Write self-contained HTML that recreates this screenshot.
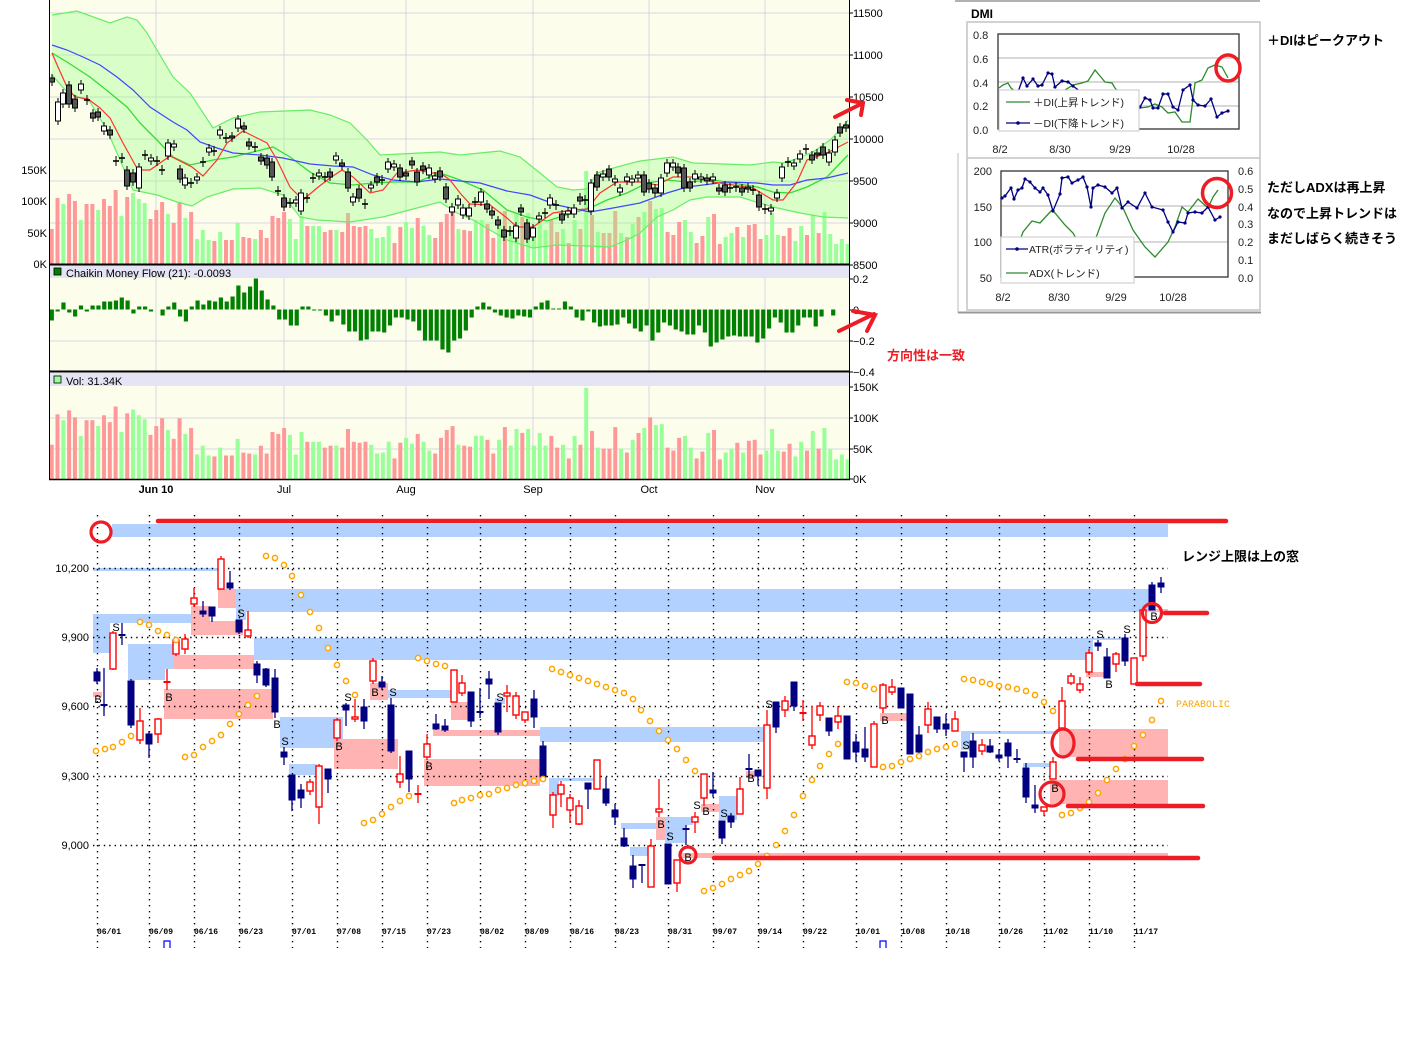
<!DOCTYPE html>
<html><head><meta charset="utf-8"><style>html,body{margin:0;padding:0;background:#fff}svg{display:block}</style></head><body>
<svg width="1412" height="1042" viewBox="0 0 1412 1042" xmlns="http://www.w3.org/2000/svg" font-family="'Liberation Sans','Noto Sans CJK JP',sans-serif">
<rect width="1412" height="1042" fill="#fff"/>
<!-- ================= TOP CHART ================= -->
<rect x="49" y="0" width="800" height="264" fill="#fdfdec"/>
<rect x="49" y="278" width="800" height="93" fill="#fdfdec"/>
<rect x="49" y="386" width="800" height="93" fill="#fdfdec"/>
<g stroke="#d6d6e0" stroke-width="1">
<line x1="49" y1="13" x2="849" y2="13"/><line x1="49" y1="55" x2="849" y2="55"/><line x1="49" y1="97" x2="849" y2="97"/><line x1="49" y1="139" x2="849" y2="139"/><line x1="49" y1="181" x2="849" y2="181"/><line x1="49" y1="223" x2="849" y2="223"/>
<line x1="49" y1="341" x2="849" y2="341"/><line x1="49" y1="418" x2="849" y2="418"/><line x1="49" y1="449" x2="849" y2="449"/>
<line x1="156" y1="0" x2="156" y2="479"/><line x1="284" y1="0" x2="284" y2="479"/><line x1="406" y1="0" x2="406" y2="479"/><line x1="533" y1="0" x2="533" y2="479"/><line x1="649" y1="0" x2="649" y2="479"/><line x1="765" y1="0" x2="765" y2="479"/>
</g>
<g id="tvol"></g><g id="tband"></g><g id="tline"></g><g id="tcand"></g>
<g id="cmf"></g><g id="vvol"></g>
<!-- headers -->
<rect x="50" y="265" width="799" height="13" fill="#e4e4f4"/>
<rect x="50" y="373" width="799" height="13" fill="#e4e4f4"/>
<rect x="54" y="268" width="7" height="7" fill="#008000" stroke="#000" stroke-width="0.8"/>
<rect x="54" y="376" width="7" height="7" fill="#99ff99" stroke="#000" stroke-width="0.8"/>
<text x="66" y="277" font-size="11" fill="#000">Chaikin Money Flow (21): -0.0093</text>
<text x="66" y="385" font-size="11" fill="#000">Vol: 31.34K</text>
<!-- frames -->
<g stroke="#000" fill="none">
<line x1="49.5" y1="0" x2="49.5" y2="480"/><line x1="849.5" y1="0" x2="849.5" y2="480"/>
<line x1="49" y1="264.5" x2="850" y2="264.5" stroke-width="2"/>
<line x1="49" y1="371.5" x2="850" y2="371.5" stroke-width="2"/>
<line x1="49" y1="479.5" x2="850" y2="479.5" stroke-width="1.5"/>
<path d="M849 13h4M849 55h4M849 97h4M849 139h4M849 181h4M849 223h4M849 265h4M849 279h4M849 310h4M849 341h4M849 372h4M849 387h4M849 418h4M849 449h4M849 479h4"/>
</g>
<g font-size="11" fill="#000">
<text x="853" y="17">11500</text><text x="853" y="59">11000</text><text x="853" y="101">10500</text><text x="853" y="143">10000</text><text x="853" y="185">9500</text><text x="853" y="227">9000</text><text x="853" y="269">8500</text>
<text x="853" y="283">0.2</text><text x="853" y="314">0</text><text x="853" y="345">−0.2</text><text x="853" y="376">−0.4</text>
<text x="853" y="391">150K</text><text x="853" y="422">100K</text><text x="853" y="453">50K</text><text x="853" y="483">0K</text>
<g text-anchor="end"><text x="47" y="174">150K</text><text x="47" y="205">100K</text><text x="47" y="237">50K</text><text x="47" y="268">0K</text></g>
<g text-anchor="middle"><text x="156" y="493" font-weight="bold">Jun 10</text><text x="284" y="493">Jul</text><text x="406" y="493">Aug</text><text x="533" y="493">Sep</text><text x="649" y="493">Oct</text><text x="765" y="493">Nov</text></g>
</g>
<!-- red arrows -->
<g stroke="#ee1c25" stroke-width="4" stroke-linecap="round" fill="none">
<path d="M835 117L863 103M847 100L863 103L861 115"/>
<path d="M839 331L874 314M853 311L875 315L867 331"/>
</g>
<text x="887" y="360" font-size="13" font-weight="bold" fill="#ee1c25">方向性は一致</text>

<!-- ================= DMI ================= -->
<line x1="955" y1="1" x2="1260" y2="1" stroke="#999" stroke-width="1.5"/>
<text x="971" y="18" font-size="12" font-weight="bold" fill="#000">DMI</text>
<rect x="967" y="22" width="293" height="288" fill="none" stroke="#c4c4c4" stroke-width="1.5"/>
<line x1="967" y1="158" x2="1260" y2="158" stroke="#c4c4c4" stroke-width="1.5"/>
<line x1="958" y1="153" x2="958" y2="313" stroke="#bbb"/>
<line x1="958" y1="312.5" x2="1261" y2="312.5" stroke="#999" stroke-width="2"/>
<g stroke="#999" stroke-width="0.8"><line x1="998" y1="58" x2="1239" y2="58"/><line x1="998" y1="82" x2="1239" y2="82"/><line x1="998" y1="106" x2="1239" y2="106"/>
<line x1="1001" y1="206" x2="1228" y2="206"/><line x1="1001" y1="242" x2="1228" y2="242"/></g>
<rect x="998" y="34" width="241" height="95" fill="none" stroke="#333" stroke-width="1.3"/>
<rect x="1001" y="171" width="227" height="106" fill="none" stroke="#333" stroke-width="1.3"/>
<polyline fill="none" stroke="#2e8b2e" stroke-width="1.3" points="999,88 1003,85 1008,83 1011,88 1020,95 1035,100 1050,97 1065,90 1073,85 1082,83 1088,81 1095,70 1100,76 1105,82 1112,83 1115,88 1125,100 1135,108 1140,108 1148,107 1155,104 1162,107 1168,113 1175,112 1182,122 1190,122 1195,83 1202,80 1208,68 1215,65 1222,67 1228,78"/>
<polyline id="mdi" fill="none" stroke="#000080" stroke-width="1.3" points="1000,100 1010,98 1018,92 1023,78 1027,86 1033,79 1038,86 1042,85 1048,73 1052,74 1055,87 1062,81 1068,82 1073,86 1085,95 1100,100 1120,105 1135,108 1140,107 1145,98 1150,100 1153,108 1158,108 1163,94 1168,94 1173,107 1178,110 1183,90 1190,85 1193,100 1198,105 1205,106 1211,99 1217,117 1222,113 1228,111"/>
<polyline fill="none" stroke="#2e8b2e" stroke-width="1.3" points="1020,240 1023,232 1032,221 1040,223 1052,210 1055,213 1065,225 1073,233 1080,245 1090,250 1097,235 1105,213 1115,198 1123,208 1133,230 1145,247 1155,257 1168,242 1175,227 1182,207 1188,212 1198,199 1208,208 1213,197 1218,190"/>
<polyline id="atr" fill="none" stroke="#000080" stroke-width="1.3" points="1002,198 1005,196 1011,188 1014,199 1018,190 1022,188 1025,179 1030,182 1035,188 1040,192 1043,188 1048,195 1053,211 1060,194 1062,178 1068,177 1072,183 1078,180 1083,177 1087,187 1091,207 1093,188 1098,185 1105,187 1112,193 1117,188 1122,208 1128,202 1137,208 1145,193 1152,207 1163,210 1168,222 1173,232 1178,222 1185,223 1188,213 1195,212 1202,213 1208,207 1215,220 1220,217"/>
<g id="dmimk"></g>
<rect x="999" y="90" width="140" height="41" fill="#fff" stroke="#c8c8c8"/>
<line x1="1006" y1="102" x2="1030" y2="102" stroke="#2e8b2e" stroke-width="1.3"/>
<line x1="1006" y1="123" x2="1030" y2="123" stroke="#000080" stroke-width="1.3"/><circle cx="1018" cy="123" r="1.8" fill="#000080"/>
<rect x="1001" y="237" width="133" height="46" fill="#fff" stroke="#c8c8c8"/>
<line x1="1006" y1="249" x2="1028" y2="249" stroke="#000080" stroke-width="1.3"/><circle cx="1017" cy="249" r="1.8" fill="#000080"/>
<line x1="1006" y1="273" x2="1028" y2="273" stroke="#2e8b2e" stroke-width="1.3"/>
<g font-size="10.5" fill="#222">
<text x="1033" y="106">＋DI(上昇トレンド)</text><text x="1033" y="127">－DI(下降トレンド)</text>
<text x="1029" y="253">ATR(ボラティリティ)</text><text x="1029" y="277">ADX(トレンド)</text>
</g>
<g font-size="11" fill="#222">
<text x="973" y="39">0.8</text><text x="973" y="63">0.6</text><text x="973" y="87">0.4</text><text x="973" y="110">0.2</text><text x="973" y="134">0.0</text>
<g text-anchor="middle"><text x="1000" y="153">8/2</text><text x="1060" y="153">8/30</text><text x="1120" y="153">9/29</text><text x="1181" y="153">10/28</text>
<text x="1003" y="301">8/2</text><text x="1059" y="301">8/30</text><text x="1116" y="301">9/29</text><text x="1173" y="301">10/28</text></g>
<g text-anchor="end"><text x="992" y="175">200</text><text x="992" y="211">150</text><text x="992" y="246">100</text><text x="992" y="282">50</text></g>
<text x="1238" y="175">0.6</text><text x="1238" y="193">0.5</text><text x="1238" y="211">0.4</text><text x="1238" y="228">0.3</text><text x="1238" y="246">0.2</text><text x="1238" y="264">0.1</text><text x="1238" y="282">0.0</text>
</g>
<ellipse cx="1228" cy="68" rx="12" ry="13" fill="none" stroke="#ee1c25" stroke-width="3.5"/>
<circle cx="1217" cy="193" r="14.5" fill="none" stroke="#ee1c25" stroke-width="3.5"/>
<g font-size="13" font-weight="bold" fill="#000">
<text x="1267" y="45">＋DIはピークアウト</text>
<text x="1267" y="192">ただしADXは再上昇</text>
<text x="1267" y="218">なので上昇トレンドは</text>
<text x="1267" y="243">まだしばらく続きそう</text>
</g>

<!-- ================= BOTTOM CHART ================= -->
<g fill="#b3d1ff">
<rect x="112" y="524" width="1056" height="13"/>
<rect x="93" y="568" width="125" height="3"/>
<rect x="236" y="589" width="914" height="23"/>
<rect x="93" y="614" width="98" height="9"/><rect x="93" y="614" width="17" height="39"/>
<rect x="128" y="644" width="37" height="36"/><rect x="128" y="644" width="45" height="25"/>
<rect x="236" y="612" width="10" height="8"/>
<rect x="254" y="638" width="839" height="22"/>
<rect x="1093" y="638" width="30" height="2"/>
<rect x="280" y="717" width="63" height="31"/>
<rect x="289" y="764" width="28" height="11"/>
<rect x="388" y="690" width="64" height="8"/>
<rect x="495" y="698" width="10" height="6"/>
<rect x="540" y="727" width="224" height="15"/>
<rect x="549" y="778" width="44" height="3"/><rect x="549" y="778" width="10" height="18"/>
<rect x="621" y="823" width="35" height="6"/>
<rect x="630" y="847" width="18" height="9"/>
<rect x="665" y="817" width="28" height="8"/><rect x="665" y="817" width="20" height="26"/>
<rect x="719" y="796" width="18" height="24"/>
<rect x="961" y="731" width="97" height="3"/><rect x="961" y="731" width="9" height="19"/>
<rect x="1023" y="763" width="27" height="4"/>
</g>
<g fill="#ffb3b3">
<rect x="93" y="692" width="9" height="5"/>
<rect x="173" y="655" width="81" height="14"/>
<rect x="164" y="689" width="109" height="30"/>
<rect x="191" y="606" width="19" height="29"/><rect x="191" y="621" width="52" height="14"/>
<rect x="218" y="589" width="18" height="19"/>
<rect x="334" y="739" width="64" height="30"/>
<rect x="370" y="683" width="18" height="17"/>
<rect x="424" y="759" width="116" height="27"/>
<rect x="433" y="730" width="107" height="6"/>
<rect x="451" y="702" width="17" height="18"/>
<rect x="656" y="817" width="9" height="23"/>
<rect x="701" y="804" width="18" height="8"/>
<rect x="746" y="771" width="9" height="7"/>
<rect x="682" y="853" width="486" height="5"/>
<rect x="880" y="713" width="27" height="8"/>
<rect x="1059" y="729" width="109" height="28"/>
<rect x="1050" y="780" width="118" height="24"/>
<rect x="1086" y="672" width="18" height="5"/>
<rect x="1148" y="609" width="20" height="3"/>
</g>
<g stroke="#000" stroke-width="1.4" fill="none">
<path stroke-dasharray="1.4 4" d="M93 568.5H1168M93 637.5H1168M93 706.5H1168M93 776.5H1168M93 845.5H1168"/>
<path id="vgrid" stroke-dasharray="1.4 4.6" d=""/>
</g>
<g font-size="11" fill="#000" text-anchor="end">
<text x="89" y="572">10,200</text><text x="89" y="641">9,900</text><text x="89" y="710">9,600</text><text x="89" y="780">9,300</text><text x="89" y="849">9,000</text>
</g>
<g id="blab" font-family="'Liberation Mono',monospace" font-size="8" font-weight="bold" fill="#000"></g>
<path d="M164 948V941H170V948M880 948V941H886V948" fill="none" stroke="#0000ff" stroke-width="1.2"/>
<g id="bc"></g><g id="bd"></g>
<g font-size="11" fill="#000" text-anchor="middle">
<text x="98" y="703">B</text><text x="116" y="631">S</text><text x="169" y="701">B</text><text x="241" y="617">S</text><text x="277" y="728">B</text><text x="285" y="745">S</text><text x="339" y="750">B</text><text x="348" y="701">S</text><text x="375" y="696">B</text><text x="393" y="696">S</text><text x="429" y="770">B</text><text x="500" y="701">S</text><text x="661" y="828">B</text><text x="670" y="840">S</text><text x="697" y="809">S</text><text x="706" y="815">B</text><text x="724" y="817">S</text><text x="751" y="782">B</text><text x="769" y="708">S</text><text x="885" y="724">B</text><text x="966" y="749">S</text><text x="1100" y="638">S</text><text x="1109" y="688">B</text><text x="1127" y="633">S</text><text x="1154" y="620">B</text><text x="1055" y="792">B</text><text x="688" y="861">B</text>
</g>
<text x="1176" y="707" font-family="'Liberation Mono',monospace" font-size="10" fill="#ffa500">PARABOLIC</text>
<text x="1182" y="561" font-size="13" font-weight="bold" fill="#000">レンジ上限は上の窓</text>
<g stroke="#ee1c25" stroke-width="4.5" stroke-linecap="round" fill="none">
<line x1="158" y1="521" x2="1226" y2="521"/>
<line x1="714" y1="858" x2="1198" y2="858"/>
<line x1="1165" y1="613" x2="1207" y2="613"/>
<line x1="1137" y1="684" x2="1200" y2="684"/>
<line x1="1078" y1="759" x2="1202" y2="759"/>
<line x1="1068" y1="806" x2="1203" y2="806"/>
</g>
<g stroke="#ee1c25" stroke-width="3.2" fill="none">
<circle cx="101" cy="532" r="10"/>
<circle cx="688" cy="855" r="8"/>
<ellipse cx="1063" cy="743" rx="11" ry="14"/>
<circle cx="1052" cy="794" r="12"/>
<circle cx="1152" cy="613" r="9.5"/>
</g>

<script>
const NS='http://www.w3.org/2000/svg';
function E(p,t,a,txt){const e=document.createElementNS(NS,t);for(const k in a)e.setAttribute(k,a[k]);if(txt!=null)e.textContent=txt;document.getElementById(p).appendChild(e);return e;}
function pts(a){return a.map(p=>p.join(',')).join(' ');}
// ---- top volume & cmf
const V=[35,66,60,70,63,44,60,60,54,65,58,74,48,67,71,65,61,45,54,62,50,41,62,46,52,25,34,24,23,32,24,24,41,27,26,25,34,26,48,46,52,45,25,48,38,38,38,32,34,34,32,51,38,37,38,35,26,27,38,21,37,42,36,46,38,29,26,42,50,54,35,
34,33,44,44,40,26,40,53,34,51,47,51,34,47,34,44,32,35,21,44,35,93,
49,32,31,31,53,31,27,40,47,52,63,55,56,32,29,42,44,32,21,28,47,50,20,27,31,37,27,39,40,25,29,51,29,28,36,23,38,29,49,31,52,30,20,25,20];
const VC="ppgppgppgpppgpgggpppgppgpgggpgppgppgpppppgggpggppgpppppggggppggpggppppg"+"ppggppgpggpggggppgpgpg"+"pgpppgpgpgpggpppggppgppggpgpppgggppggpgpgggg"+"gg";
V.forEach((h,i)=>{const x=51.7+i*5.81;const c=VC[i]=='g'?'#99ff99':'#ff9999';
E('tvol','rect',{x:x-2,y:264-h,width:4,height:h,fill:c});
const h2=h*0.98;E('vvol','rect',{x:x-2,y:479-h2,width:4,height:h2,fill:c});});
const C=[-11,-2,7,-3,-7,4,-2,4,4,8,8,9,12,9,-4,3,3,-2,0,-6,3,7,-7,-12,3,9,5,9,8,12,8,13,24,17,23,31,19,10,4,-10,-10,-16,-16,3,3,-1,-1,-6,-12,-6,-15,-22,-22,-31,-30,-22,-22,-23,-16,-8,-8,-10,-12,-21,-31,-31,-31,-40,-43,-31,-29,
-21,-8,3,7,3,-3,-6,-8,-9,-6,-7,-8,3,7,9,1,1,8,3,-8,-11,-2,-13,-17,-16,-16,-15,-8,-14,-19,-22,-16,-31,-23,-13,-16,-20,-22,-25,-25,-16,-23,-37,-33,-30,-27,-26,-27,-27,-27,-33,-29,-19,-8,-13,-23,-23,-16,-8,-8,-17,-7,0,-6,0];
C.forEach((v,i)=>{const x=51.7+i*5.81*(136/135.5);if(v==0)return;const y=v>0?309.5-v:309.5;E('cmf','rect',{x:x-2,y:y,width:4.2,height:Math.abs(v),fill:'#008000'});});
// ---- bollinger etc
const U=[[52,15],[77,11],[110,23],[127,17],[137,20],[147,33],[157,50],[173,77],[190,93],[213,128],[233,118],[260,112],[310,110],[330,115],[350,123],[367,140],[380,155],[400,154],[420,153],[440,152],[460,155],[480,153],[500,151],[520,157],[540,173],[557,187],[573,190],[587,189],[597,173],[617,167],[640,161],[673,157],[693,163],[723,164],[750,165],[773,162],[783,163],[793,160],[813,152],[830,140],[840,130],[848,120]];
const Lo=[[52,75],[67,92],[90,102],[107,130],[120,160],[133,190],[157,195],[177,202],[192,206],[207,197],[233,189],[260,188],[283,195],[300,217],[317,220],[350,222],[383,217],[417,208],[440,202],[457,213],[473,220],[507,240],[533,248],[557,245],[590,246],[610,247],[627,240],[640,233],[657,217],[673,210],[690,200],[707,197],[740,197],[773,207],[800,213],[823,217],[848,218]];
const M=[[52,53],[67,62],[90,77],[110,93],[127,107],[140,123],[157,140],[173,157],[190,165],[213,160],[233,157],[253,152],[273,147],[290,157],[310,172],[330,183],[353,185],[373,183],[393,182],[417,182],[440,173],[460,180],[483,190],[507,210],[527,217],[547,221],[573,213],[590,208],[607,200],[627,193],[647,183],[667,180],[687,182],[713,180],[733,183],[757,187],[773,192],[790,193],[807,187],[827,177],[848,155]];
const BL=[[52,45],[67,50],[83,57],[100,65],[117,77],[133,90],[150,107],[173,122],[187,130],[200,142],[217,148],[233,153],[260,155],[283,158],[310,164],[333,166],[353,167],[373,175],[393,180],[417,182],[440,179],[480,183],[507,191],[530,195],[557,205],[590,212],[613,208],[640,203],[667,193],[687,187],[727,182],[757,183],[773,185],[790,185],[807,180],[827,178],[848,173]];
const RD=[[52,53],[58,67],[67,87],[75,97],[88,99],[100,108],[110,118],[123,143],[138,170],[150,170],[170,156],[192,167],[203,176],[217,160],[227,143],[243,131],[255,137],[267,143],[277,160],[290,187],[303,200],[317,188],[330,178],[342,170],[353,177],[370,193],[383,190],[397,173],[417,170],[433,173],[440,173],[450,180],[460,193],[470,204],[490,205],[507,218],[517,227],[533,227],[553,213],[573,210],[587,209],[600,193],[617,182],[640,182],[657,185],[673,177],[693,177],[713,182],[733,185],[753,188],[773,200],[783,200],[797,182],[807,160],[827,153],[848,142]];
E('tband','polygon',{points:pts(U)+' '+pts(Lo.slice().reverse()),fill:'#99ff88','fill-opacity':0.36});
E('tline','polyline',{points:pts(U),fill:'none',stroke:'#66ee66','stroke-width':1.2});
E('tline','polyline',{points:pts(Lo),fill:'none',stroke:'#66ee66','stroke-width':1.2});
E('tline','polyline',{points:pts(M),fill:'none',stroke:'#33dd33','stroke-width':1.3});
E('tline','polyline',{points:pts(BL),fill:'none',stroke:'#4444ff','stroke-width':1.2});
E('tline','polyline',{points:pts(RD),fill:'none',stroke:'#ff3333','stroke-width':1.2});
// ---- top candles
const T=[[52,78,82,1],[58,102,121,0],[63,93,104,0],[69,85,104,1],[75,99,108,1],[81,84,90,0],[87,100,100,2],[93,113,118,1],[98,112,117,1],[104,126,131,0],[110,130,135,1],[116,161,161,2],[122,158,158,2],[127,170,186,1],[133,173,182,1],[139,167,188,0],[145,155,155,2],[151,158,161,0],[157,161,161,2],[162,170,170,2],[168,143,156,0],[174,144,147,0],[180,169,179,1],[185,178,185,0],[191,183,183,2],[197,177,180,0],[203,162,162,2],[209,148,152,0],[214,151,151,2],[220,130,135,0],[226,138,138,2],[232,136,138,1],[238,119,128,0],[244,126,129,1],[249,142,146,1],[255,147,147,2],[261,157,161,1],[267,158,165,1],[272,162,177,1],[278,191,191,2],[284,198,207,1],[290,203,203,2],[296,200,203,0],[301,193,211,0],[307,198,198,2],[313,178,178,2],[319,173,176,0],[325,177,177,2],[330,172,177,1],[336,156,160,0],[342,163,166,1],[348,172,188,1],[353,197,202,0],[359,189,198,1],[365,204,204,2],[371,185,188,0],[377,177,182,1],[382,180,180,2],[388,162,169,0],[394,164,167,0],[400,168,177,1],[406,173,176,1],[412,161,165,1],[417,172,182,1],[423,166,170,1],[429,168,175,0],[435,176,179,0],[440,171,177,1],[446,187,199,1],[452,207,212,0],[458,199,205,0],[463,208,215,0],[469,208,216,0],[475,202,202,2],[481,192,202,0],[487,204,209,1],[492,211,215,1],[498,220,225,1],[504,230,237,1],[510,231,231,2],[516,226,238,0],[521,208,212,1],[527,223,239,1],[533,228,237,0],[539,216,219,0],[545,213,213,2],[550,198,205,0],[556,205,205,2],[562,214,220,1],[568,211,214,0],[574,208,214,0],[580,197,201,1],[585,200,200,2],[591,183,211,0],[597,175,187,1],[603,174,177,0],[609,169,177,1],[615,179,182,0],[620,188,192,0],[627,177,181,0],[632,179,182,0],[638,175,178,0],[644,175,192,1],[649,183,189,1],[655,188,193,1],[661,178,193,0],[667,163,173,0],[673,163,167,0],[678,167,173,1],[684,168,188,1],[690,182,188,1],[695,174,179,0],[701,177,179,0],[707,178,181,1],[713,177,180,0],[719,188,191,1],[725,185,192,1],[730,188,188,2],[736,187,187,2],[742,188,192,1],[748,187,189,1],[753,190,190,2],[759,195,207,1],[765,209,209,2],[771,208,211,0],[777,193,198,0],[782,167,178,0],[788,162,162,2],[794,163,166,0],[800,154,159,0],[806,149,149,2],[812,155,160,1],[817,153,155,1],[823,147,155,1],[829,153,162,0],[835,140,152,0],[840,127,133,1],[846,125,128,1]];
T.forEach(c=>{const[x,t,b,k]=c;
 if(k==2){E('tcand','line',{x1:x,y1:t-5,x2:x,y2:t+5,stroke:'#000'});E('tcand','line',{x1:x-3,y1:t,x2:x+3,y2:t,stroke:'#000','stroke-width':1.6});}
 else{E('tcand','line',{x1:x,y1:t-4,x2:x,y2:b+4,stroke:'#000'});E('tcand','rect',{x:x-2.5,y:t,width:5,height:Math.max(b-t,1.5),fill:k?'#555':'#fff',stroke:'#000','stroke-width':1});}
});
// ---- DMI markers
['mdi','atr'].forEach(id=>{document.getElementById(id).getAttribute('points').trim().split(/\s+/).forEach(p=>{const[a,b]=p.split(',');E('dmimk','circle',{cx:a,cy:b,r:1.6,fill:'#000080'});});});
// ---- bottom grid & labels
const GX=[97,149,194,239,292,337,382,427,480,525,570,615,668,713,758,803,856,901,946,999,1044,1089,1134];
const GL=["06/01","06/09","06/16","06/23","07/01","07/08","07/15","07/23","08/02","08/09","08/16","08/23","08/31","09/07","09/14","09/22","10/01","10/08","10/18","10/26","11/02","11/10","11/17"];
document.getElementById('vgrid').setAttribute('d',GX.map(x=>'M'+(x+0.5)+' 515V948').join(''));
GX.forEach((x,i)=>E('blab','text',{x:x,y:934},GL[i]));
// ---- bottom candles
const B=[[97,672,681,668,684,1],[104,705,705,668,716,3],[113,633,669,631,670,0],[122,635,635,623,645,3],[131,681,725,679,728,1],[140,721,740,708,744,0],[149,734,744,731,758,1],[158,719,734,718,743,0],[167,682,682,669,690,2],[176,640,654,638,656,0],[185,639,649,634,654,0],[194,598,604,588,607,0],[203,611,614,601,617,1],[212,607,616,607,622,1],[221,559,589,556,589,0],[230,583,588,571,590,1],[239,620,632,620,634,1],[248,630,636,611,638,0],[257,664,675,661,683,1],[266,669,685,668,687,1],[275,678,712,669,718,1],[284,752,757,747,765,1],[292,775,800,775,811,1],[301,790,798,784,808,1],[310,782,791,779,795,0],[319,766,807,764,824,0],[328,769,779,769,793,1],[337,720,738,718,741,0],[346,705,710,703,726,1],[355,717,719,699,722,0],[364,707,721,699,729,1],[373,661,681,658,684,0],[382,682,687,676,690,1],[391,705,751,698,753,1],[400,774,782,756,788,0],[409,751,779,751,792,1],[418,794,794,785,803,2],[427,744,757,734,760,0],[436,724,729,714,730,1],[445,726,730,719,732,1],[454,670,702,670,702,0],[462,683,693,675,696,0],[471,692,721,692,727,1],[480,712,712,688,718,3],[489,679,684,671,699,1],[498,703,732,703,735,1],[507,693,696,685,712,0],[516,696,715,692,719,0],[525,712,720,712,723,0],[534,699,717,690,728,1],[543,746,777,741,777,1],[553,795,815,792,828,0],[561,785,794,781,807,0],[570,798,810,794,823,0],[579,806,824,800,825,0],[588,783,789,783,809,1],[597,760,789,760,789,0],[606,789,803,777,806,1],[615,810,817,804,825,1],[624,838,846,828,847,1],[633,866,879,855,888,1],[642,865,865,865,883,3],[651,846,887,839,887,0],[659,809,812,779,817,0],[668,844,884,844,884,1],[677,860,883,860,892,0],[686,829,829,825,845,3],[695,817,822,812,833,0],[704,774,798,774,806,0],[713,790,793,772,797,1],[722,821,838,821,844,1],[731,816,822,813,828,1],[740,789,814,777,814,0],[749,769,769,754,777,3],[758,770,776,770,785,1],[767,725,788,710,799,0],[776,702,727,702,733,1],[785,701,710,696,717,0],[794,682,706,682,711,1],[803,713,713,700,721,2],[812,736,745,706,749,0],[820,706,715,702,721,0],[829,718,731,718,736,1],[838,716,722,706,729,0],[847,716,759,716,759,1],[856,742,752,734,762,1],[865,749,757,727,762,1],[874,724,767,721,767,0],[883,685,708,683,713,0],[892,687,692,679,695,0],[901,688,708,688,708,1],[910,694,754,694,754,1],[919,735,752,726,755,1],[928,709,725,702,733,0],[937,717,729,717,733,1],[946,724,729,714,736,1],[955,719,731,711,731,0],[964,752,757,752,772,1],[973,741,757,733,768,1],[982,745,751,739,755,0],[990,746,752,739,753,1],[999,755,758,749,761,1],[1008,743,756,739,768,1],[1017,759,759,749,763,3],[1026,768,797,763,803,1],[1035,805,808,785,813,1],[1044,807,811,807,816,0],[1053,762,779,757,779,0],[1062,701,728,687,730,0],[1071,676,683,673,685,0],[1080,684,690,677,693,0],[1089,653,672,649,675,0],[1098,643,646,640,651,1],[1107,657,678,648,678,1],[1116,654,664,652,672,0],[1125,638,661,634,666,1],[1134,658,684,658,684,0],[1143,610,656,610,661,0],[1152,585,610,582,610,1],[1161,583,587,577,593,1]];
B.forEach(c=>{const[x,t,b,wt,wb,k]=c;const red=(k==0||k==2);const col=red?'#ff0000':'#000080';
 E('bc','line',{x1:x,y1:wt,x2:x,y2:wb,stroke:col,'stroke-width':1.3});
 if(k>=2){E('bc','line',{x1:x-3.5,y1:t,x2:x+3.5,y2:t,stroke:col,'stroke-width':2});}
 else E('bc','rect',{x:x-3,y:t,width:6,height:Math.max(b-t,2),fill:red?'#fff':'#000080',stroke:col,'stroke-width':red?1.4:1});});
const P=[[96,751],[105,749],[113,747],[122,742],[131,736],[140,622],[149,625],[158,631],[167,635],[176,640],[185,757],[194,755],[203,747],[212,741],[221,735],[230,724],[239,714],[248,705],[257,696],[266,556],[275,558],[284,565],[292,576],[301,595],[310,612],[319,628],[328,648],[337,665],[346,681],[355,695],[364,823],[373,820],[382,814],[391,807],[400,801],[409,796],[418,658],[427,661],[436,664],[445,666],[454,803],[462,800],[471,798],[480,795],[489,794],[498,790],[507,788],[516,785],[525,783],[534,781],[543,779],[552,669],[561,672],[570,675],[579,678],[588,681],[597,684],[606,687],[615,690],[624,693],[633,699],[641,710],[650,721],[659,731],[668,740],[677,749],[686,760],[695,771],[704,891],[713,888],[722,884],[731,879],[740,875],[749,871],[758,864],[767,856],[776,845],[785,831],[794,815],[803,796],[812,780],[820,766],[829,754],[838,744],[847,682],[856,683],[865,686],[874,689],[883,767],[892,766],[901,762],[910,759],[919,756],[928,752],[937,749],[946,747],[955,744],[964,679],[973,680],[982,682],[990,684],[999,686],[1008,687],[1017,689],[1026,691],[1035,695],[1044,702],[1053,711],[1062,815],[1071,813],[1080,808],[1089,802],[1098,793],[1107,780],[1116,769],[1125,759],[1134,746],[1143,735],[1152,720],[1161,701]];
P.forEach(p=>E('bd','circle',{cx:p[0],cy:p[1],r:2.6,fill:'#fff',stroke:'#ffa500','stroke-width':1.5}));
</script>
</svg>
</body></html>
